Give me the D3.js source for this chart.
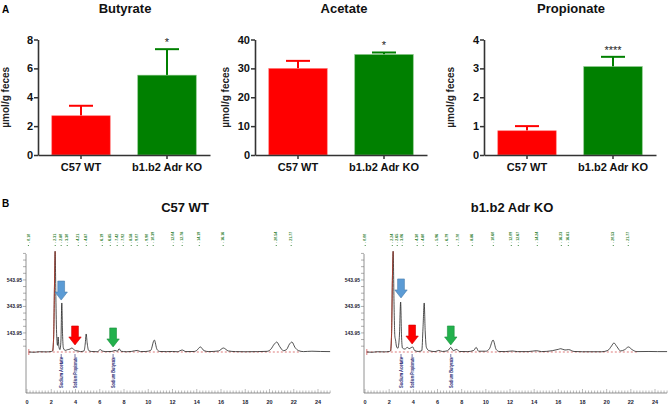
<!DOCTYPE html>
<html><head><meta charset="utf-8">
<script src="https://cdn.jsdelivr.net/npm/d3@7"></script>
<style>
html,body{margin:0;padding:0;background:#fff;}
svg{display:block;font-family:"Liberation Sans",Arial,sans-serif;}
</style></head>
<body>
<svg id="chart" width="669" height="406"></svg>
<script>
// ---------- DATA ----------
const categories = ["C57 WT", "b1.b2 Adr KO"];
const panelTitles = ["Butyrate", "Acetate", "Propionate"];
const butyrateMean = [2.72, 5.53];
const butyrateSEM  = [0.69, 1.80];
const acetateMean  = [30.0, 34.8];
const acetateSEM   = [2.6, 0.7];
const propionateMean = [0.84, 3.06];
const propionateSEM  = [0.16, 0.34];
const significance = ["*", "*", "****"];
const yMaxes = [8, 40, 4];
const yTickSteps = [2, 10, 1];
const yLabel = "\u00b5mol/g feces";
const barColors = ["#ff0000", "#008000"];

const chromTitles = ["C57 WT", "b1.b2 Adr KO"];
const chromYTickLabels = ["143.95", "343.95", "543.95"];
const chromXTickLabels = [0, 2, 4, 6, 8, 10, 12, 14, 16, 18, 20, 22, 24];
const compoundNames = ["Sodium Acetate", "Sodium Propionate", "Sodium Butyrate"];
const arrowColors = ["#5b9bd5", "#ff0000", "#22b14c"];
// arrow / compound positions (min) and arrow tip heights (signal units)
const wtCompoundTimes = [2.82, 3.96, 7.1];
const wtArrowTips = [392, 53, 38];
const koCompoundTimes = [2.98, 3.9, 7.1];
const koArrowTips = [408, 60, 53];
// retention time labels (min)
const wtRetention = [0.10, 2.31, 2.80, 3.30, 4.21, 4.87, 6.19, 6.85, 7.42, 7.92, 8.58, 9.07, 9.90, 10.39, 12.04, 12.78, 14.19, 16.16, 20.54, 21.77];
const koRetention = [0.00, 2.24, 2.65, 3.06, 4.30, 4.80, 5.96, 6.79, 7.70, 8.86, 10.60, 12.09, 12.67, 14.24, 16.23, 16.81, 20.53, 21.77];
// chromatogram traces [time (min), signal]
const wtTrace = [[0.15,0],[0.6,-2],[1.0,2],[1.6,1],[2.0,4],[2.12,8],[2.2,120],[2.27,520],[2.32,760],[2.38,420],[2.45,120],[2.52,50],[2.57,113],[2.63,40],[2.72,18],[2.8,90],[2.87,370],[2.93,140],[3.0,30],[3.15,12],[3.35,18],[3.55,22],[3.7,30],[3.85,20],[4.0,10],[4.2,8],[4.4,3],[4.7,8],[4.8,60],[4.88,136],[4.96,70],[5.08,12],[5.3,4],[5.8,2],[6.05,18],[6.2,8],[6.5,3],[7.0,4],[7.25,12],[7.45,5],[7.6,25],[7.75,6],[8.2,2],[8.6,4],[9.1,12],[9.35,3],[9.8,4],[10.2,12],[10.5,90],[10.72,20],[10.95,4],[11.5,3],[12.0,4],[12.4,2],[12.8,15],[13.1,3],[13.8,4],[14.0,12],[14.3,38],[14.6,10],[15.0,3],[15.8,8],[16.2,30],[16.6,8],[17.2,3],[18.0,2],[19.0,3],[19.8,5],[20.1,20],[20.4,60],[20.6,75],[20.85,40],[21.15,10],[21.4,18],[21.65,60],[21.85,75],[22.1,35],[22.4,10],[22.8,3],[23.5,6],[24.2,4],[25.0,3]];
const koTrace = [[0.15,0],[0.6,-2],[1.0,2],[1.6,1],[2.0,4],[2.12,8],[2.2,140],[2.27,560],[2.33,760],[2.4,380],[2.47,120],[2.53,90],[2.6,45],[2.72,28],[2.84,110],[2.95,377],[3.02,130],[3.1,30],[3.3,22],[3.5,35],[3.65,25],[3.8,32],[3.95,38],[4.1,12],[4.4,4],[4.7,10],[4.8,180],[4.9,370],[4.98,160],[5.08,35],[5.3,10],[5.8,3],[6.1,12],[6.4,4],[6.85,10],[7.1,35],[7.3,10],[7.6,20],[7.8,4],[8.5,3],[9.0,12],[9.2,35],[9.4,6],[10.0,6],[10.3,25],[10.6,90],[10.85,20],[11.1,4],[11.6,3],[12.2,8],[12.6,3],[13.5,3],[14.2,10],[14.6,3],[15.5,10],[16.0,20],[16.2,25],[16.55,15],[16.85,18],[17.3,4],[18.0,2],[19.6,2],[20.1,12],[20.4,45],[20.6,68],[20.85,40],[21.15,8],[21.5,18],[21.8,38],[22.1,18],[22.5,3],[23.5,4],[24.2,3],[25.0,3]];

// ---------- DRAW ----------
const svg = d3.select("#chart");
const FONT = "'Liberation Sans',Arial,sans-serif";

svg.append("text").attr("x", 2).attr("y", 13).text("A")
  .attr("font-size", 10).attr("font-weight", "bold");
svg.append("text").attr("x", 2).attr("y", 207).text("B")
  .attr("font-size", 10).attr("font-weight", "bold");

const means = [butyrateMean, acetateMean, propionateMean];
const sems = [butyrateSEM, acetateSEM, propionateSEM];
const axisXs = [38, 255, 484];
const titleXs = [125, 344, 571];
const yLabelXs = [9, 229, 454];
const yTop = 39.5, yBottom = 155;

panelTitles.forEach((title, i) => {
  const g = svg.append("g");
  const ax = axisXs[i];
  const y = d3.scaleLinear().domain([0, yMaxes[i]]).range([yBottom, yTop]);
  const x = d3.scaleBand().domain(categories).range([ax, ax + 172])
    .paddingInner(0.32).paddingOuter(0.16);

  g.append("text").attr("x", titleXs[i]).attr("y", 13).attr("text-anchor", "middle")
    .attr("font-size", 13).attr("font-weight", "bold").attr("fill", "#111").text(title);

  // bars
  categories.forEach((c, j) => {
    const m = means[i][j], s = sems[i][j];
    const cx = x(c) + x.bandwidth() / 2;
    g.append("line").attr("x1", cx).attr("x2", cx).attr("y1", y(m)).attr("y2", y(m + s))
      .attr("stroke", barColors[j]).attr("stroke-width", 2);
    g.append("line").attr("x1", cx - 12).attr("x2", cx + 12).attr("y1", y(m + s)).attr("y2", y(m + s))
      .attr("stroke", barColors[j]).attr("stroke-width", 2);
    g.append("rect").attr("x", x(c)).attr("width", x.bandwidth())
      .attr("y", y(m)).attr("height", y(0) - y(m)).attr("fill", barColors[j])
      .attr("stroke", j === 1 ? "#7fc27f" : "#ff8080").attr("stroke-width", 0.6);
    if (j === 1) {
      g.append("text").attr("x", cx).attr("y", y(m + s) - 3).attr("text-anchor", "middle")
        .attr("font-size", 11).attr("fill", "#222").text(significance[i]);
    }
  });

  // axes
  const ticks = d3.range(0, yMaxes[i] + 1e-9, yTickSteps[i]);
  const ya = g.append("g").attr("transform", `translate(${ax},0)`)
    .call(d3.axisLeft(y).tickValues(ticks).tickFormat(d3.format("d")).tickSize(4).tickSizeOuter(0));
  ya.select(".domain").attr("stroke", "#333").attr("stroke-width", 1.6);
  ya.selectAll(".tick line").attr("stroke", "#333").attr("stroke-width", 1.5);
  ya.selectAll("text").attr("font-size", 11).attr("font-weight", "bold")
    .attr("font-family", FONT).attr("fill", "#111").attr("x", -5);

  const xa = g.append("g").attr("transform", `translate(0,${yBottom})`)
    .call(d3.axisBottom(x).tickSize(4).tickSizeOuter(0));
  xa.select(".domain").attr("stroke", "#333").attr("stroke-width", 1.6);
  xa.selectAll(".tick line").attr("stroke", "#333").attr("stroke-width", 1.5);
  xa.selectAll("text").attr("font-size", 11).attr("font-weight", "bold")
    .attr("font-family", FONT).attr("fill", "#111").attr("y", 8);

  g.append("text").attr("transform", `translate(${yLabelXs[i]},${(yTop + yBottom) / 2}) rotate(-90)`)
    .attr("text-anchor", "middle").attr("font-size", 10).attr("fill", "#222")
    .attr("font-weight", "bold").text(yLabel);
});

// ---------- CHROMATOGRAMS ----------
const chromPanels = [
  {title: chromTitles[0], titleX: 185, x0: 27, x24: 318, trace: wtTrace, times: wtCompoundTimes, tips: wtArrowTips, ret: wtRetention, labX: 23},
  {title: chromTitles[1], titleX: 512, x0: 365, x24: 655, trace: koTrace, times: koCompoundTimes, tips: koArrowTips, ret: koRetention, labX: 361}
];
const base = 352, axisY = 393;

chromPanels.forEach(p => {
  const g = svg.append("g");
  const pxPerMin = (p.x24 - p.x0) / 24;
  const x = d3.scaleLinear().domain([0, 25]).range([p.x0, p.x0 + 25 * pxPerMin]);
  const y = d3.scaleLinear().domain([0, 200]).range([base, base - 26.5]);

  g.append("text").attr("x", p.titleX).attr("y", 212).attr("text-anchor", "middle")
    .attr("font-size", 13).attr("font-weight", "bold").attr("fill", "#111").text(p.title);

  // retention labels
  p.ret.forEach(t => {
    g.append("text").attr("transform", `translate(${x(t) + 1.3},243) rotate(-90)`)
      .attr("font-size", 3.6).attr("fill", "#2f7f2f").attr("font-weight", "bold")
      .text("- " + t.toFixed(2));
    g.append("circle").attr("cx", x(t) + 0.2).attr("cy", 245.5).attr("r", 0.6).attr("fill", "#2f7f2f");
  });

  // y axis
  g.append("line").attr("x1", p.x0 - 1).attr("x2", p.x0 - 1).attr("y1", 254).attr("y2", axisY)
    .attr("stroke", "#777").attr("stroke-width", 0.8);
  d3.range(-2, 13).forEach(k => {
    const v = 143.95 + k * 50;
    g.append("line").attr("x1", p.x0 - 4).attr("x2", p.x0 - 1).attr("y1", y(v)).attr("y2", y(v))
      .attr("stroke", "#777").attr("stroke-width", 0.6);
  });
  chromYTickLabels.forEach(l => {
    g.append("text").attr("x", p.labX - 1).attr("y", y(+l) + 1.8).attr("text-anchor", "end")
      .attr("font-size", 5).attr("fill", "#223").attr("font-weight", "bold").text(l);
  });

  // x axis
  g.append("line").attr("x1", p.x0 - 1).attr("x2", x(25)).attr("y1", axisY).attr("y2", axisY)
    .attr("stroke", "#777").attr("stroke-width", 0.8);
  d3.range(0, 25.01, 0.25).forEach(t => {
    const major = Math.abs(t - Math.round(t / 2) * 2) < 1e-6;
    g.append("line").attr("x1", x(t)).attr("x2", x(t)).attr("y1", axisY).attr("y2", axisY - (major ? 4 : 2.5))
      .attr("stroke", "#777").attr("stroke-width", 0.5);
  });
  chromXTickLabels.forEach(t => {
    g.append("text").attr("x", x(t)).attr("y", 404).attr("text-anchor", "middle")
      .attr("font-size", 5.5).attr("font-weight", "bold").attr("fill", "#223").text(t);
  });

  // baseline (integration) dashed red
  g.append("line").attr("x1", x(0.15)).attr("x2", x(22.6)).attr("y1", y(0)).attr("y2", y(0))
    .attr("stroke", "#d04040").attr("stroke-width", 0.7).attr("stroke-dasharray", "2,2");
  g.append("line").attr("x1", x(0.15)).attr("x2", x(0.15)).attr("y1", y(0) - 3).attr("y2", y(0) + 3)
    .attr("stroke", "#d04040").attr("stroke-width", 0.7);

  // trace
  const line = d3.line().x(d => x(d[0])).y(d => y(d[1])).curve(d3.curveMonotoneX);
  g.append("path").datum(p.trace).attr("d", line).attr("fill", "none")
    .attr("stroke", "#222").attr("stroke-width", 0.8);
  g.append("path").datum(p.trace.filter(d => d[0] >= 2.1 && d[0] <= 2.33)).attr("d", line)
    .attr("fill", "none").attr("stroke", "#b03a2a").attr("stroke-width", 0.9);

  // compound labels + arrows
  p.times.forEach((t, i) => {
    const cx = x(t);
    g.append("line").attr("x1", cx).attr("x2", cx).attr("y1", base + 2).attr("y2", base + 5)
      .attr("stroke", "#1a1a66").attr("stroke-width", 0.6);
    g.append("text").attr("transform", `translate(${cx + 1.8},357) rotate(-90)`)
      .attr("text-anchor", "end").attr("font-size", 5).attr("font-weight", "bold")
      .attr("fill", "#1a1a70").attr("textLength", 31).attr("lengthAdjust", "spacingAndGlyphs")
      .text(compoundNames[i]);
    const tip = y(p.tips[i]);
    const L = 19, bw = 3.4, hw = 6.2, hl = 8;
    const path = `M${cx - bw},${tip - L} L${cx + bw},${tip - L} L${cx + bw},${tip - hl} L${cx + hw},${tip - hl} L${cx},${tip} L${cx - hw},${tip - hl} L${cx - bw},${tip - hl} Z`;
    g.append("path").attr("d", path).attr("fill", arrowColors[i])
      .attr("stroke", d3.color(arrowColors[i]).darker(0.6)).attr("stroke-width", 0.6);
  });
});
</script>
</body></html>
